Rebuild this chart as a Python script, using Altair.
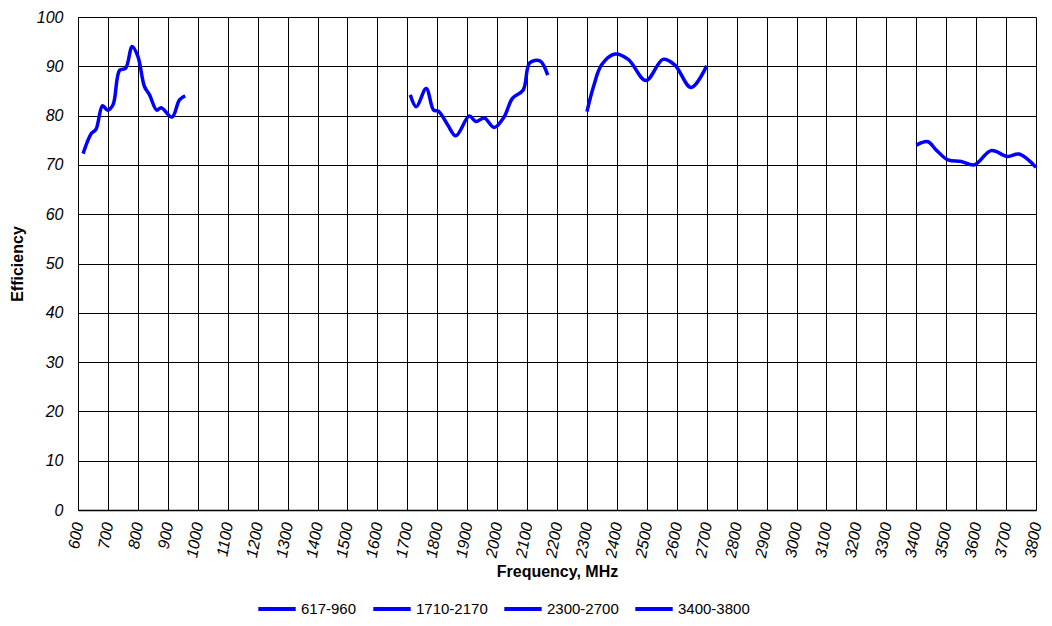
import altair as alt
import pandas as pd

series_names = ["617-960", "1710-2170", "2300-2700", "3400-3800"]

f1 = [617, 645, 660, 682, 699, 717, 739, 759, 781, 800, 822, 839, 863, 878, 914, 939, 958]
e1 = [72.3, 76.4, 77.2, 82.0, 81.1, 82.2, 89.2, 89.6, 94.0, 92.0, 85.9, 84.2, 81.1, 81.6, 79.7, 83.2, 84.0]

f2 = [1710, 1730, 1763, 1788, 1804, 1835, 1862, 1907, 1929, 1957, 1990, 2023, 2051, 2087, 2109, 2143, 2169]
e2 = [84.2, 81.8, 85.5, 81.1, 80.9, 78.1, 75.9, 79.9, 78.8, 79.5, 77.6, 79.7, 83.5, 85.2, 90.7, 91.1, 88.2]

f3 = [2300, 2322, 2349, 2394, 2438, 2497, 2554, 2593, 2648, 2700]
e3 = [80.8, 85.9, 90.3, 92.5, 91.4, 87.1, 91.4, 90.3, 85.7, 90.1]

f4 = [3400, 3439, 3467, 3506, 3550, 3594, 3650, 3705, 3744, 3800]
e4 = [74.0, 74.7, 73.0, 71.0, 70.7, 70.0, 72.9, 71.7, 72.2, 69.5]

x_ticks = list(range(600, 3801, 100))
y_ticks = list(range(0, 101, 10))

rows = []
for name, fs, es in zip(series_names, [f1, f2, f3, f4], [e1, e2, e3, e4]):
    for i, (f, e) in enumerate(zip(fs, es)):
        rows.append({"series": name, "freq": f, "eff": e, "order": i})
df = pd.DataFrame(rows)

font = "Liberation Sans"

chart = alt.Chart(df).mark_line(
    interpolate="catmull-rom", strokeWidth=3.5
).encode(
    x=alt.X("freq:Q", scale=alt.Scale(domain=[600, 3800], nice=False, zero=False),
            axis=alt.Axis(values=x_ticks, title="Frequency, MHz", labelAngle=-80,
                          format="d",
                          labelAlign="right", labelBaseline="middle",
                          labelFontStyle="italic", labelFontSize=16, labelFont=font,
                          labelPadding=12, labelFlush=False, labelOverlap=False,
                          titleFont=font, titleFontSize=16, titleFontWeight="bold",
                          titlePadding=5, titleColor="black", labelColor="black",
                          grid=True, gridColor="black", gridOpacity=1, gridWidth=1,
                          ticks=False, domainColor="black", domainWidth=1.5)),
    y=alt.Y("eff:Q", scale=alt.Scale(domain=[0, 100], nice=False),
            axis=alt.Axis(values=y_ticks, title="Efficiency", format="d",
                          labelFontStyle="italic", labelFontSize=16, labelFont=font,
                          labelPadding=15, labelColor="black",
                          titleFont=font, titleFontSize=16, titleFontWeight="bold",
                          titlePadding=11, titleColor="black",
                          grid=True, gridColor="black", gridOpacity=1, gridWidth=1,
                          ticks=False, domainColor="black", domainWidth=1)),
    color=alt.Color("series:N", sort=series_names,
                    scale=alt.Scale(domain=series_names, range=["#0000FF"] * 4),
                    legend=alt.Legend(title=None, orient="none", direction="horizontal",
                                      legendX=178, legendY=571, columns=4,
                                      symbolType="stroke", symbolSize=1400,
                                      symbolStrokeWidth=4, symbolStrokeColor="#0000FF",
                                      columnPadding=8,
                                      labelFont=font, labelFontSize=15,
                                      labelColor="black", labelOffset=3)),
    detail="series:N",
    order="order:Q",
).properties(
    width=958, height=493,
    autosize=alt.AutoSizeParams(type="none"),
    padding={"left": 70, "top": 9, "right": 8, "bottom": 108},
).configure_view(
    stroke="black", strokeWidth=1
).configure(background="white")

chart.save("out.html", embed_options={"renderer": "svg", "actions": False})
